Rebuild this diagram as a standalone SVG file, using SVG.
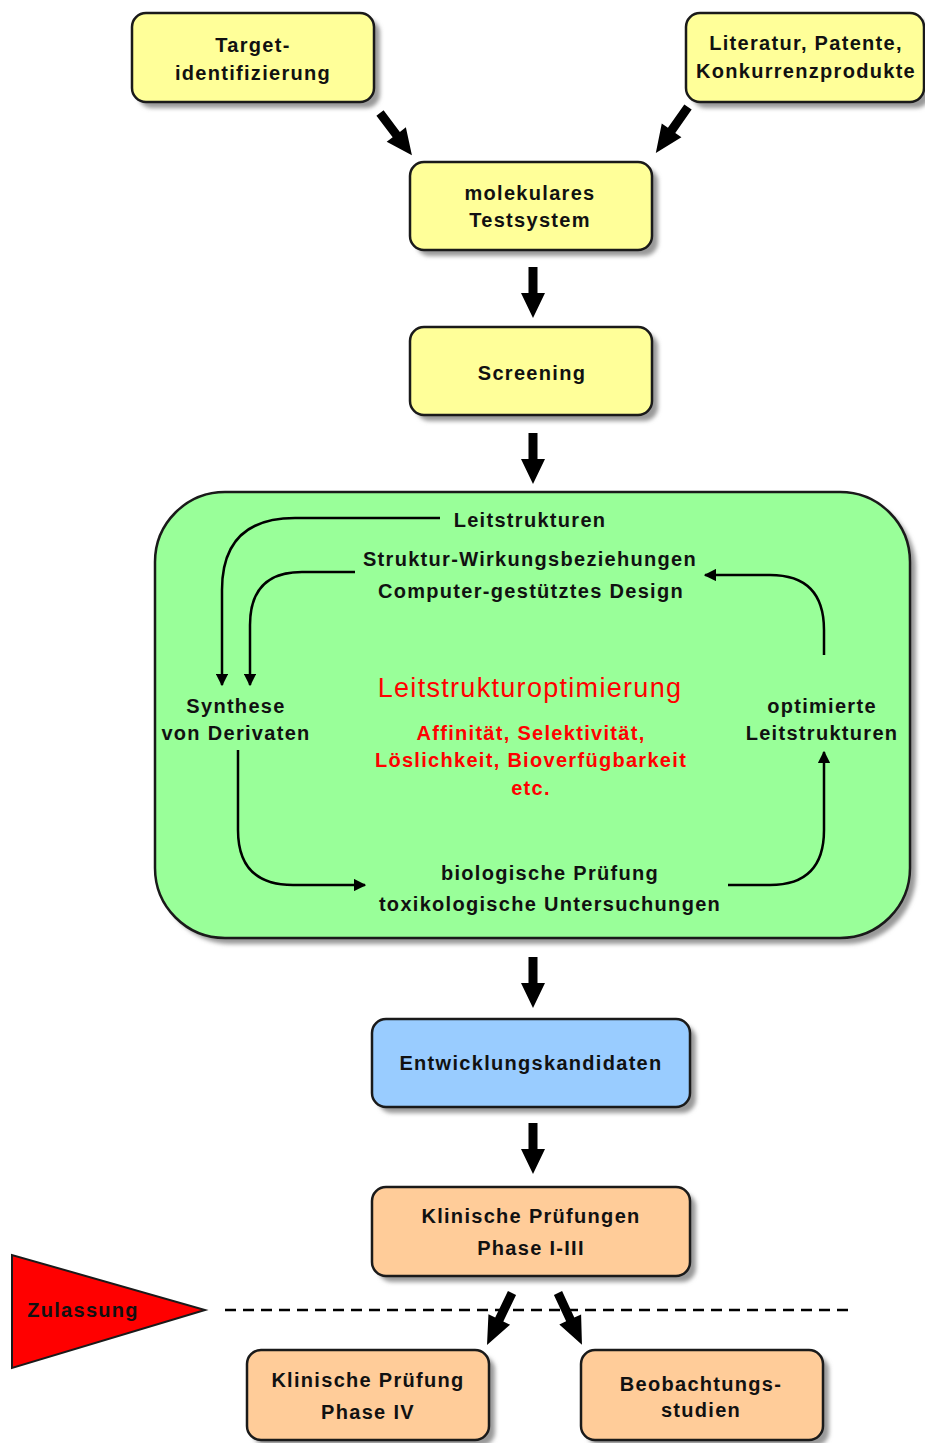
<svg xmlns="http://www.w3.org/2000/svg" width="925" height="1443" viewBox="0 0 925 1443">
<style>
.box{stroke:#1a1a1a;stroke-width:2.5}
.y{fill:#ffff99}
.g{fill:#99ff99}
.b{fill:#99ccff}
.o{fill:#ffcc99}
.sh{fill:#999;filter:url(#blur)}
text{font-family:"Liberation Sans",Arial,sans-serif;font-weight:bold;font-size:20px;letter-spacing:1.3px;fill:#111;text-anchor:middle}
.red{fill:#ff0000}
.thin{fill:none;stroke:#000;stroke-width:2.5}
</style>
<defs>
<filter id="blur" x="-10%" y="-10%" width="120%" height="120%"><feGaussianBlur stdDeviation="2"/></filter>
<marker id="ah" viewBox="0 0 10 10" refX="9" refY="5" markerWidth="5" markerHeight="5" orient="auto" markerUnits="strokeWidth"><path d="M0,0 L10,5 L0,10 Z" fill="#000"/></marker>
<path id="blk" d="M-4.5,0 L4.5,0 L4.5,26 L12,26 L0,51 L-12,26 L-4.5,26 Z" fill="#000"/>
</defs>

<g id="target">
<rect class="sh" x="138" y="19" width="242" height="89" rx="14"/>
<rect class="box y" x="132" y="13" width="242" height="89" rx="14"/>
<text x="253" y="52">Target-</text>
<text x="253" y="80">identifizierung</text>
</g>
<g id="literatur">
<rect class="sh" x="692" y="19" width="238" height="89" rx="14"/>
<rect class="box y" x="686" y="13" width="238" height="89" rx="14"/>
<text x="806" y="50">Literatur, Patente,</text>
<text x="806" y="78">Konkurrenzprodukte</text>
</g>
<g id="molekular">
<rect class="sh" x="416" y="168" width="242" height="88" rx="14"/>
<rect class="box y" x="410" y="162" width="242" height="88" rx="14"/>
<text x="530" y="200">molekulares</text>
<text x="530" y="227">Testsystem</text>
</g>
<g id="screening">
<rect class="sh" x="416" y="333" width="242" height="88" rx="14"/>
<rect class="box y" x="410" y="327" width="242" height="88" rx="14"/>
<text x="532" y="380">Screening</text>
</g>
<g id="optimierung">
<rect class="sh" x="161" y="498" width="755" height="446" rx="70"/>
<rect class="box g" x="155" y="492" width="755" height="446" rx="70"/>
<text x="530" y="527">Leitstrukturen</text>
<text x="530" y="566">Struktur-Wirkungsbeziehungen</text>
<text x="531" y="598">Computer-gestütztes Design</text>
<text class="red" x="530" y="697" style="font-size:27px;font-weight:normal">Leitstrukturoptimierung</text>
<text class="red" x="531" y="740">Affinität, Selektivität,</text>
<text class="red" x="531" y="767">Löslichkeit, Bioverfügbarkeit</text>
<text class="red" x="531" y="795">etc.</text>
<text x="236" y="713">Synthese</text>
<text x="236" y="740">von Derivaten</text>
<text x="822" y="713">optimierte</text>
<text x="822" y="740">Leitstrukturen</text>
<text x="550" y="880">biologische Prüfung</text>
<text x="550" y="911">toxikologische Untersuchungen</text>
</g>
<g id="entwicklung">
<rect class="sh" x="378" y="1025" width="318" height="88" rx="14"/>
<rect class="box b" x="372" y="1019" width="318" height="88" rx="14"/>
<text x="531" y="1070">Entwicklungskandidaten</text>
</g>
<g id="klinisch">
<rect class="sh" x="378" y="1193" width="318" height="89" rx="14"/>
<rect class="box o" x="372" y="1187" width="318" height="89" rx="14"/>
<text x="531" y="1223">Klinische Prüfungen</text>
<text x="531" y="1255">Phase I-III</text>
</g>
<g id="phase4">
<rect class="sh" x="253" y="1356" width="242" height="90" rx="14"/>
<rect class="box o" x="247" y="1350" width="242" height="90" rx="14"/>
<text x="368" y="1387">Klinische Prüfung</text>
<text x="368" y="1419">Phase IV</text>
</g>
<g id="beobachtung">
<rect class="sh" x="587" y="1356" width="242" height="90" rx="14"/>
<rect class="box o" x="581" y="1350" width="242" height="90" rx="14"/>
<text x="701" y="1391">Beobachtungs-</text>
<text x="701" y="1417">studien</text>
</g>
<g id="zulassung">
<polygon points="12,1255 12,1368 205,1310" fill="#ff0000" stroke="#1a1a1a" stroke-width="2"/>
<text x="83" y="1317">Zulassung</text>
</g>

<g id="connectors">
<use href="#blk" transform="translate(380,113) rotate(-37) scale(1,1.04)"/>
<use href="#blk" transform="translate(688,107) rotate(35) scale(1,1.1)"/>
<use href="#blk" transform="translate(533,267)"/>
<use href="#blk" transform="translate(533,433)"/>
<use href="#blk" transform="translate(533,957)"/>
<use href="#blk" transform="translate(533,1123)"/>
<use href="#blk" transform="translate(512,1293) rotate(25.7) scale(1,1.13)"/>
<use href="#blk" transform="translate(558,1293) rotate(-24.8) scale(1,1.12)"/>
<line x1="225" y1="1310" x2="855" y2="1310" stroke="#000" stroke-width="2.5" stroke-dasharray="11,7"/>
<path class="thin" marker-end="url(#ah)" d="M440,518 L295,518 Q222,518 222,590 L222,685"/>
<path class="thin" marker-end="url(#ah)" d="M355,572 L302,572 Q250,572 250,625 L250,685"/>
<path class="thin" marker-end="url(#ah)" d="M238,750 L238,830 Q238,885 293,885 L365,885"/>
<path class="thin" marker-end="url(#ah)" d="M728,885 L770,885 Q824,885 824,830 L824,752"/>
<path class="thin" marker-end="url(#ah)" d="M824,655 L824,630 Q824,575 770,575 L705,575"/>
</g>
</svg>
